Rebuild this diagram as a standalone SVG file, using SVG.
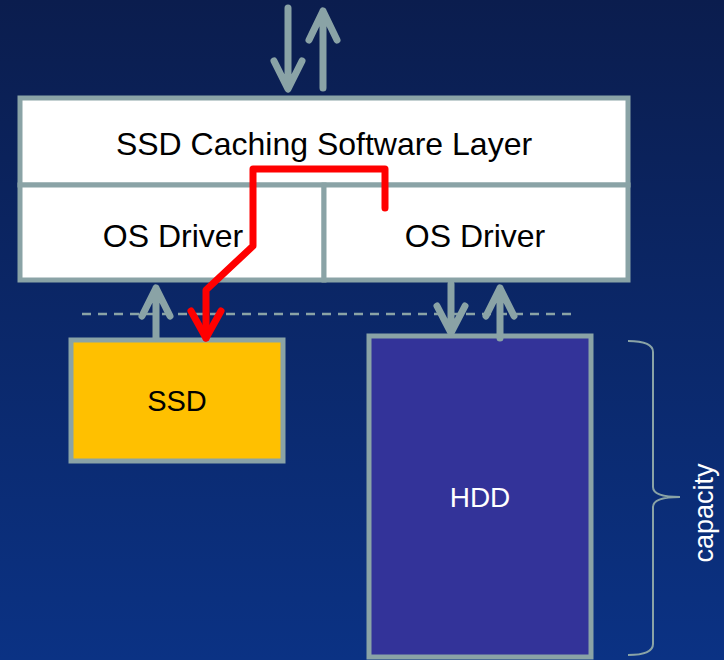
<svg xmlns="http://www.w3.org/2000/svg" width="724" height="660" viewBox="0 0 724 660">
  <defs>
    <linearGradient id="bg" x1="0" y1="0" x2="0" y2="1">
      <stop offset="0" stop-color="#0b1d4e"/>
      <stop offset="1" stop-color="#0b3284"/>
    </linearGradient>
    <style>
      .frame { stroke: #8aa3a6; stroke-width: 5; }
      .conn { fill: none; stroke: #8aa3a6; stroke-width: 7; stroke-linecap: round; stroke-linejoin: round; }
      .label { font-family: "Liberation Sans", Arial, sans-serif; text-anchor: middle; }
      .red { fill: none; stroke: #ff0000; stroke-width: 7; stroke-linecap: round; stroke-linejoin: round; }
    </style>
  </defs>

  <rect width="724" height="660" fill="url(#bg)"/>

  <!-- software stack -->
  <g id="caching-layer">
    <rect x="20" y="98" width="608" height="87" fill="#ffffff" class="frame"/>
    <text x="324" y="155" class="label" font-size="32" fill="#000">SSD Caching Software Layer</text>
  </g>
  <g id="os-driver-ssd">
    <rect x="20" y="185" width="304" height="95" fill="#ffffff" class="frame"/>
    <text x="173" y="247" class="label" font-size="32" fill="#000">OS Driver</text>
  </g>
  <g id="os-driver-hdd">
    <rect x="324" y="185" width="304" height="95" fill="#ffffff" class="frame"/>
    <text x="475" y="247" class="label" font-size="32" fill="#000">OS Driver</text>
  </g>

  <!-- devices -->
  <g id="ssd">
    <rect x="71" y="340" width="212" height="121" fill="#ffc000" class="frame"/>
    <text x="177" y="411" class="label" font-size="29" fill="#000">SSD</text>
  </g>
  <g id="hdd">
    <rect x="369" y="336" width="222" height="321" fill="#333399" class="frame"/>
    <text x="480" y="507" class="label" font-size="28" fill="#ffffff">HDD</text>
  </g>

  <g id="capacity">
    <path d="M628 341 Q653 341 653 352 L653 487 Q653 497 680 497 Q653 497 653 507 L653 644 Q653 655 628 655" fill="none" stroke="#8aa3a6" stroke-width="2"/>
    <text transform="translate(713 513) rotate(-90)" class="label" font-size="27" fill="#ffffff">capacity</text>
  </g>

  <!-- connectors -->
  <g id="connectors">
    <line x1="82" y1="314" x2="576" y2="314" stroke="#8aa3a6" stroke-width="2.5" stroke-dasharray="9 7"/>
    <!-- host I/O -->
    <path class="conn" d="M288 8 V88 M274 61 L288 89 L302 61"/>
    <path class="conn" d="M323 88 V11 M309 40 L323 11 L337 40"/>
    <!-- SSD side -->
    <path class="conn" d="M156 338 V288 M142 316 L156 288 L170 316"/>
    <!-- HDD side -->
    <path class="conn" d="M451 284 V333 M437 306 L451 333 L465 306"/>
    <path class="conn" d="M500 338 V288 M486 316 L500 288 L514 316"/>
    <!-- cache path -->
    <path class="red" d="M385 208 V169 H253 V246 L206 290 V338"/>
    <path class="red" d="M191 311 L206 338 L221 311"/>
  </g>
</svg>
